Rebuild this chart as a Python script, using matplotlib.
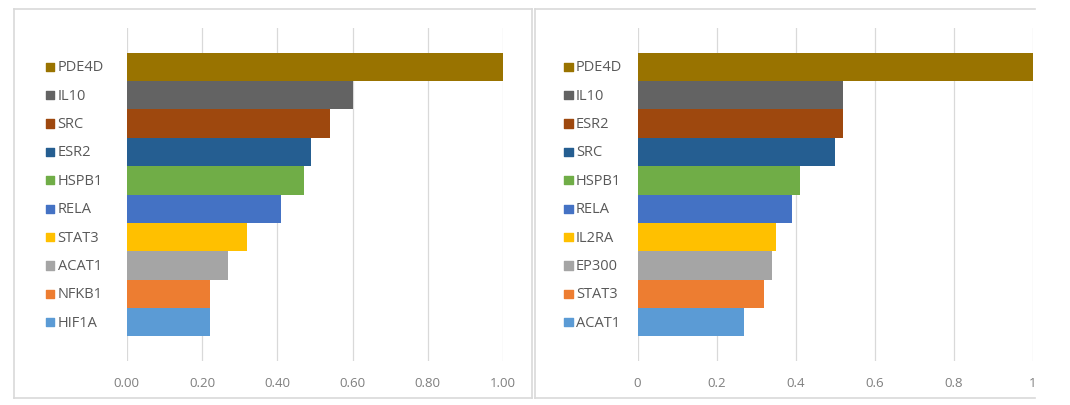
import matplotlib.pyplot as plt
from matplotlib.lines import Line2D
from matplotlib.transforms import blended_transform_factory
import numpy as np

# Données (de bas en haut)
genes_a = ["HIF1A", "NFKB1", "ACAT1", "STAT3", "RELA", "HSPB1", "ESR2", "SRC", "IL10", "PDE4D"]
vals_a = [0.22, 0.22, 0.27, 0.32, 0.41, 0.47, 0.49, 0.54, 0.60, 1.00]

genes_b = ["ACAT1", "STAT3", "EP300", "IL2RA", "RELA", "HSPB1", "SRC", "ESR2", "IL10", "PDE4D"]
vals_b = [0.27, 0.32, 0.34, 0.35, 0.39, 0.41, 0.50, 0.52, 0.52, 1.00]

# Palette Office (même ordre pour les deux graphes)
palette = ["#5B9BD5", "#ED7D31", "#A5A5A5", "#FFC000", "#4472C4",
           "#70AD47", "#255E91", "#9E480E", "#636363", "#997300"]

ticks = [0, 0.2, 0.4, 0.6, 0.8, 1.0]
ticklabels_a = ["0.00", "0.20", "0.40", "0.60", "0.80", "1.00"]
ticklabels_b = ["0", "0.2", "0.4", "0.6", "0.8", "1"]

W, H = 1070, 406
fig = plt.figure(figsize=(W / 100, H / 100), dpi=100)
plt.rcParams['font.family'] = ['Open Sans', 'DejaVu Sans']


def fx(px):
    return px / W


def fy(py):
    return 1 - py / H


def panel(x0, x1, genes, vals, labels, sq_x, txt_x):
    ax = fig.add_axes([fx(x0), fy(362), fx(x1 - x0), fy(29) - fy(362)])
    y = np.arange(len(genes))
    ax.barh(y, vals, height=1.0, color=palette, zorder=2)
    ax.set_xlim(0, 1)
    ax.set_ylim(-0.5 - 0.865, len(genes) - 0.5 + 0.865)
    ax.set_xticks(ticks)
    ax.set_xticklabels(labels, color="#7F7F7F", fontsize=9.5)
    ax.set_yticks([])
    ax.tick_params(axis='x', length=0, pad=11)
    ax.grid(axis='x', color="#D9D9D9", linewidth=0.9, zorder=0)
    for s in ax.spines.values():
        s.set_visible(False)

    # étiquettes avec carré de couleur
    tr = blended_transform_factory(fig.transFigure, ax.transData)
    ax.scatter([fx(sq_x)] * len(genes), y, marker='s', s=36, c=palette,
               transform=tr, clip_on=False)
    for yi, g in zip(y, genes):
        ax.text(fx(txt_x), yi, g, transform=tr, ha='left', va='center',
                fontsize=10.5, color="#595959")
    return ax


panel(126.7, 503.1, genes_a, vals_a, ticklabels_a, 50, 57.5)
panel(637.6, 1032.8, genes_b, vals_b, ticklabels_b, 568.6, 576)

# cadres des graphes
bc = "#D9D9D9"
for xs, ys in [([13.8, 532], [10, 10]), ([13.8, 532], [399, 399]),
               ([13.8, 13.8], [10, 399]), ([532, 532], [10, 399]),
               ([535, 1035], [10, 10]), ([535, 1035], [399, 399]),
               ([535, 535], [10, 399])]:
    fig.add_artist(Line2D([fx(v) for v in xs], [fy(v) for v in ys],
                          color=bc, linewidth=1.2))

fig.savefig("out.png", dpi=100)
